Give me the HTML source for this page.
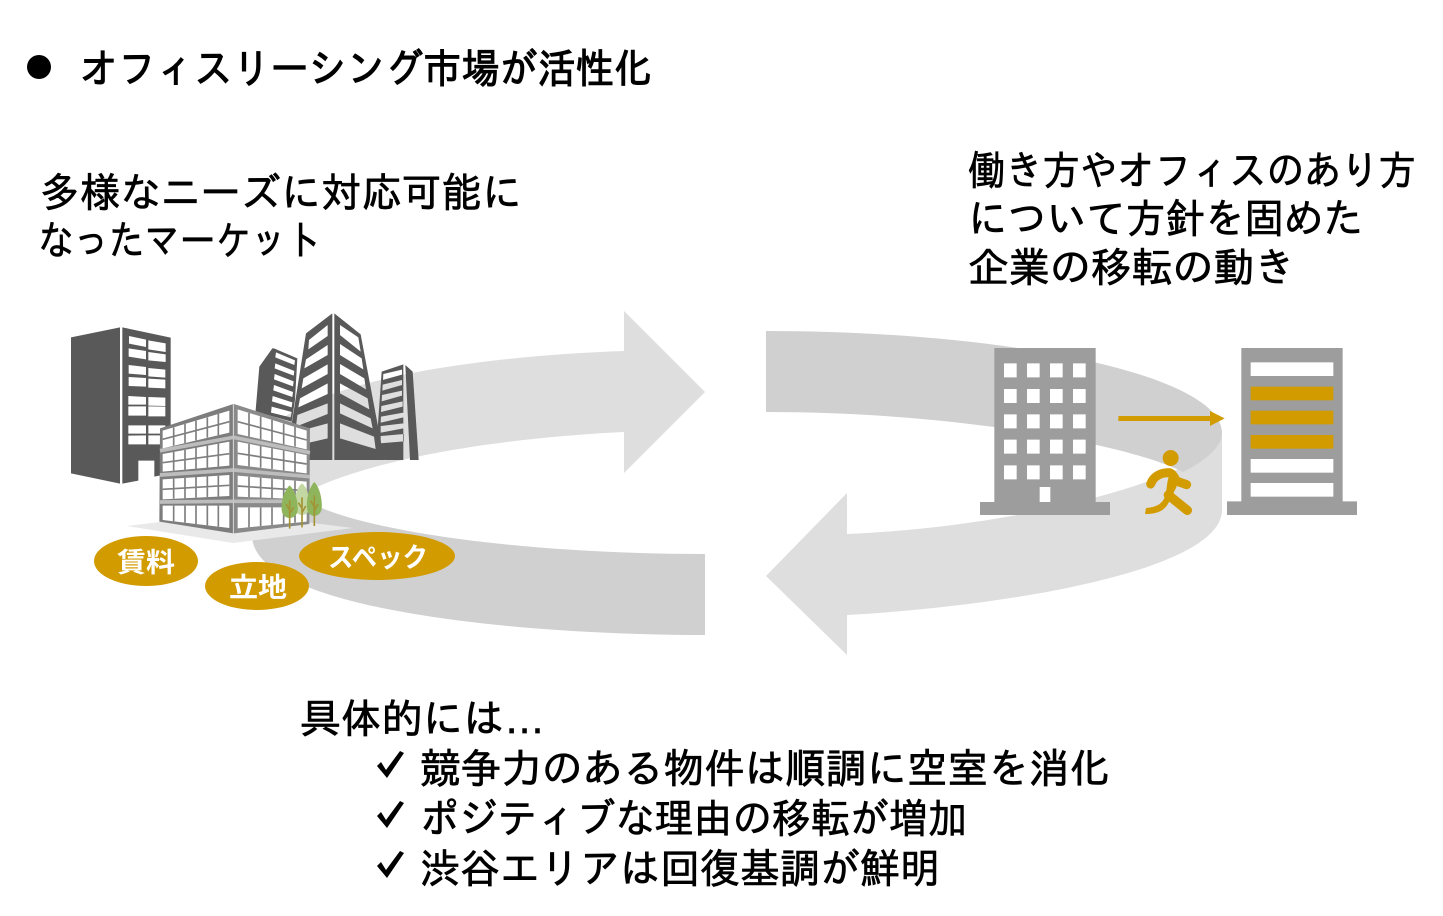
<!DOCTYPE html>
<html lang="ja"><head><meta charset="utf-8"><style>
html,body{margin:0;padding:0;background:#fff}
svg{display:block}
text{font-family:"Liberation Sans","IPAGothic","Noto Sans CJK JP",sans-serif;fill:#000;font-size:41px;stroke:#000;stroke-width:.7px}
text.b{font-family:"Liberation Sans","Noto Sans CJK JP",sans-serif;font-weight:700;fill:#fff;font-size:27px;stroke:none}
</style></head><body>
<svg width="1443" height="916" viewBox="0 0 1443 916" xmlns="http://www.w3.org/2000/svg">
<rect width="1443" height="916" fill="#fff"/>

<!-- arrows -->
<path d="M624,351L624,311L705,392L624,473L624,432C500,438 370,458 300,495C270,510 250,525 250,540L250,500L260,440C300,380 480,356 624,351Z" fill="#dedede"/>
<path d="M705,554L705,635C520,635 252,610 252,535L300,495C330,525 500,554 705,554Z" fill="#d0d0d0"/>
<path d="M847,534L847,493L766,576L847,655L847,615C1010,606 1222,570 1222,510L1222,433C1222,470 1040,526 847,534Z" fill="#dedede"/>
<path d="M766,331C1010,331 1222,375 1222,433C1222,447 1205,461 1183,472C1130,445 960,412 766,412Z" fill="#d0d0d0"/>

<!-- ground -->
<polygon points="127,526 225,514 240,514 353,528 233,543" fill="#e9e9e9"/>

<!-- left illustration in zoom coordinates -->
<g transform="translate(50,300) scale(.33333)">
<path fill="#595959" fill-rule="evenodd" d="M63,112L210,82L210,551L63,520Z
M217,82L362,113L362,520L313,530L313,482L265,482L265,542L217,551Z
M237,108L288,119L288,141L237,131Z M295,121L347,130L347,156L295,148Z
M236,145L288,153L288,178L236,170Z M295,156L347,163L347,186L295,181Z
M236,195L288,201L288,225L236,221Z M295,204L346,209L346,233L295,229Z
M236,231L288,234L288,260L236,258Z M295,236L346,239L346,265L295,263Z
M235,288L288,291L288,314L235,314Z M295,291L346,293L346,318L295,317Z
M235,319L288,319L288,347L235,347Z M295,319L346,320L346,349L295,349Z
M235,376L288,376L288,401L235,401Z M295,376L346,376L346,401L295,401Z
M235,407L288,406L288,433L235,433Z M295,406L346,406L346,433L295,433Z"/>
<!-- back towers -->
<path fill="#595959" fill-rule="evenodd" d="M617,330L628,200L667,145L672,145L742,175L735,300L725,365L617,335Z
M678,157L735,181L733,195L676,172Z M676,190L733,213L731,227L674,205Z M674,222L731,244L729,259L672,238Z M672,255L729,276L727,291L670,271Z M668,288L727,307L725,322L666,304Z M665,320L725,336L722,352L663,338Z"/>
<path fill="#595959" fill-rule="evenodd" d="M725,372L768,100L847,40L847,480L725,480Z
M777,120L833,75L833,108L775,148Z M768,178L833,135L833,165L763,205Z M760,235L833,193L833,222L755,265Z M750,295L833,250L833,282L745,322Z M742,345L833,310L833,342L738,380Z M760,390L833,370L833,415L760,432Z"/>
<path fill="#595959" fill-rule="evenodd" d="M853,40L932,103L1003,480L853,480Z
M870,75L925,112L932,155L870,105Z M870,132L935,175L940,208L870,165Z M870,192L943,235L948,268L870,222Z M870,250L953,295L958,328L870,280Z M870,310L962,355L968,385L870,340Z M870,370L972,410L977,447L870,415Z"/>
<path fill="#595959" fill-rule="evenodd" d="M982,400L995,215L1060,193L1060,480L1003,480Z
M1000,222L1056,209L1056,224L999,240Z M998,254L1056,240L1056,255L997,272Z M996,285L1056,272L1056,287L995,304Z M994,318L1058,304L1058,320L993,336Z M993,350L1060,338L1060,352L992,368Z M992,378L1060,370L1060,385L992,398Z M992,408L1062,402L1062,424L992,430Z"/>
<path fill="#595959" d="M1066,195L1088,215L1106,480L1080,480Z"/>
<!-- centre building -->
<polygon points="330,385 550,312 550,700 328,665" fill="#7d7d7d"/>
<polygon points="552,312 780,385 778,672 552,700" fill="#8a8a8a"/>
<path d="M330,452L550,412L780,458M330,525L550,510L780,530M330,606L550,604L780,604" fill="none" stroke="#bdbdbd" stroke-width="11"/>
<path d="M550,312V700" stroke="#c8c8c8" stroke-width="3"/>
<path fill="#fff" d="M338,392L538,332L538,398L338,445Z M338,462L538,425L538,497L338,515Z M338,538L538,525L538,588L338,598Z M338,617L538,617L538,684L338,660Z
M563,328L770,392L770,448L563,402Z M563,425L770,465L770,520L563,495Z M563,527L770,545L770,598L563,590Z M563,622L770,622L770,665L563,685Z"/>
<path fill="none" stroke="#7f7f7f" stroke-width="5" d="
M371,382V437M405,372V429M438,362V421M472,352V413M505,342V406
M371,456V512M405,450V509M438,443V506M472,437V503M505,431V500
M371,536V596M405,534V595M438,531V593M472,529V591M505,527V590
M371,617V664M405,617V668M438,617V672M472,617V676M505,617V680
M338,418L538,365M338,488L538,461M338,568L538,556
M597,339V410M632,349V417M666,360V425M701,371V433M735,381V440
M597,432V499M632,438V503M666,445V507M701,452V512M735,458V516
M597,530V591M632,533V593M666,536V594M701,539V595M735,542V597
M597,622V682M632,622V678M666,622V675M701,622V672M735,622V668
M563,365L770,420M563,460L770,492M563,558L770,572"/>
<!-- trees -->
<path d="M756,550C775,565 780,600 776,630C772,650 740,650 736,630C732,600 737,565 756,550Z" fill="#c3d7a2"/>
<path d="M719,556C735,570 745,605 743,630C741,662 697,662 695,630C693,605 703,570 719,556Z" fill="#8fb55c"/>
<path d="M793,546C809,562 818,600 815,625C812,655 774,655 771,625C768,600 777,562 793,546Z" fill="#8fb55c"/>
<path d="M719,600V686M756,592V682M793,586V678M719,630L708,612M719,640L731,622M756,625L745,608M756,638L767,618M793,620L782,602M793,632L804,612" stroke="#a39334" stroke-width="5" fill="none"/>
</g>

<!-- pills -->
<ellipse cx="146" cy="561" rx="52" ry="25" fill="#d29b00"/>
<ellipse cx="257" cy="586" rx="52" ry="24" fill="#d29b00"/>
<ellipse cx="377" cy="556" rx="78" ry="24" fill="#d29b00"/>
<text class="b" x="117" y="572" textLength="58" lengthAdjust="spacingAndGlyphs">賃料</text>
<text class="b" x="229" y="597" textLength="58" lengthAdjust="spacingAndGlyphs">立地</text>
<text class="b" x="328" y="567" textLength="100" lengthAdjust="spacingAndGlyphs">スペック</text>

<!-- right illustration in zoom coordinates -->
<g transform="translate(960,330) scale(.33333)">
<rect x="120" y="90" width="270" height="430" fill="#fff"/>
<path fill="#9d9d9d" fill-rule="evenodd" d="M103,54H407V516H450V555H60V516H103Z
M132,100h38v42h-38Z M201,100h38v42h-38Z M270,100h38v42h-38Z M339,100h38v42h-38Z
M132,177h38v42h-38Z M201,177h38v42h-38Z M270,177h38v42h-38Z M339,177h38v42h-38Z
M132,253h38v42h-38Z M201,253h38v42h-38Z M270,253h38v42h-38Z M339,253h38v42h-38Z
M132,329h38v42h-38Z M201,329h38v42h-38Z M270,329h38v42h-38Z M339,329h38v42h-38Z
M132,406h38v42h-38Z M201,406h38v42h-38Z M270,406h38v42h-38Z M339,406h38v42h-38Z
M239,471h32v45h-32Z"/>
<path fill="#9d9d9d" d="M844,54H1148V514H1191V555H801V514H844Z"/>
<g fill="#fff"><rect x="872" y="97" width="248" height="41"/><rect x="872" y="387" width="248" height="41"/><rect x="872" y="459" width="248" height="41"/></g>
<g fill="#d29b00"><rect x="872" y="170" width="248" height="41"/><rect x="872" y="242" width="248" height="41"/><rect x="872" y="315" width="248" height="41"/>
<rect x="475" y="258" width="280" height="15"/><polygon points="750,243 794,265 750,288"/>
<circle cx="632" cy="384" r="24"/>
<path d="M572,462C580,440 600,428 628,428C640,430 645,450 652,454L680,464" fill="none" stroke="#d29b00" stroke-width="27" stroke-linecap="round" stroke-linejoin="round"/>
<path d="M632,425C618,455 622,480 615,500C605,525 585,532 558,534L555,552C590,552 615,545 630,510L650,470Z" fill="#d29b00"/>
<path d="M625,495L682,541" fill="none" stroke="#d29b00" stroke-width="28" stroke-linecap="round"/></g>
</g>

<!-- text -->
<circle cx="39" cy="67" r="12" fill="#000"/>
<text x="80" y="83" textLength="572" lengthAdjust="spacingAndGlyphs" style="stroke-width:1.1px">オフィスリーシング市場が活性化</text>
<text x="40" y="207" textLength="482" lengthAdjust="spacingAndGlyphs">多様なニーズに対応可能に</text>
<text x="38" y="255" textLength="284" lengthAdjust="spacingAndGlyphs">なったマーケット</text>
<text x="968" y="185" textLength="448" lengthAdjust="spacingAndGlyphs">働き方やオフィスのあり方</text>
<text x="968" y="233" textLength="395" lengthAdjust="spacingAndGlyphs">について方針を固めた</text>
<text x="968" y="282" textLength="327" lengthAdjust="spacingAndGlyphs">企業の移転の動き</text>
<text x="300" y="733" textLength="245" lengthAdjust="spacingAndGlyphs">具体的には…</text>
<text x="420" y="783" textLength="690" lengthAdjust="spacingAndGlyphs">競争力のある物件は順調に空室を消化</text>
<text x="420" y="833" textLength="547" lengthAdjust="spacingAndGlyphs">ポジティブな理由の移転が増加</text>
<text x="420" y="883" textLength="520" lengthAdjust="spacingAndGlyphs">渋谷エリアは回復基調が鮮明</text>
<path fill="#000" d="M377,766L381,762L386,770L400,751L404,753L387,778Z M377,816L381,812L386,820L400,801L404,803L387,828Z M377,866L381,862L386,870L400,851L404,853L387,878Z"/>
</svg>
</body></html>
